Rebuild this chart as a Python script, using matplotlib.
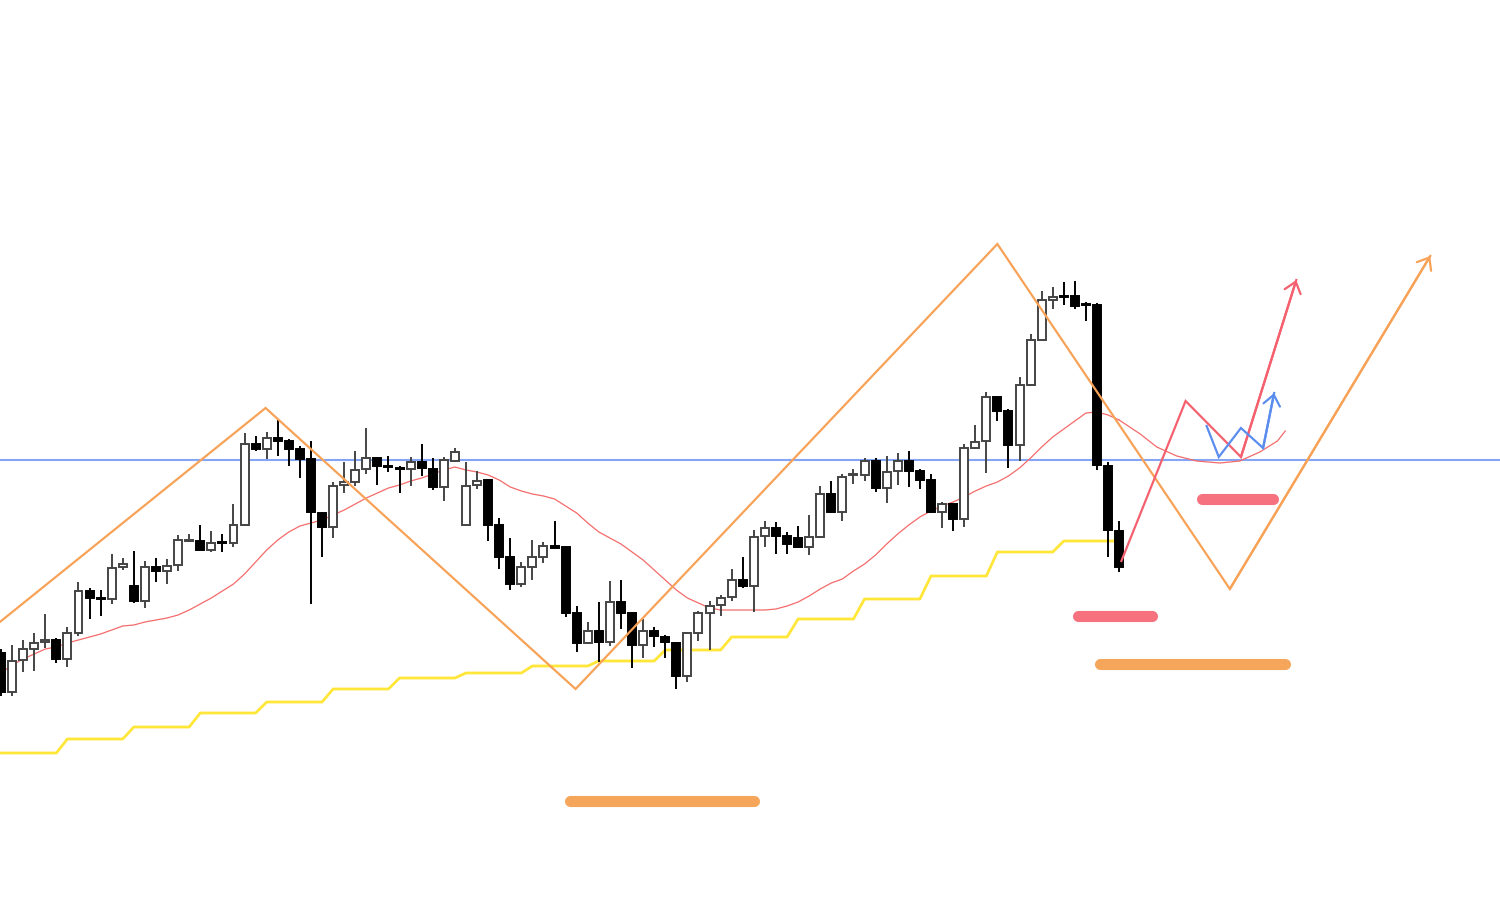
import numpy as np
import matplotlib
matplotlib.use("Agg")
import matplotlib.pyplot as plt

# =========================
# 1. Candle data
# =========================
opens = [258, 219, 251, 262, 269, 271, 252, 278, 320, 313,
         312, 344, 325, 310, 344, 340, 346, 370, 370, 361,
         369, 368, 386, 467, 462, 473, 470, 462, 452, 398,
         384, 426, 429, 442, 453, 445, 443, 442, 449, 442,
         424, 450, 386, 426, 431, 386, 354, 327, 344, 354,
         365, 364, 298, 268, 280, 269, 309, 298, 266, 280,
         274, 268, 235, 278, 298, 306, 314, 331, 325, 375,
         383, 375, 373, 364, 374, 417, 399, 436, 436, 450,
         423, 440, 450, 440, 431, 399, 407, 392, 463, 470,
         514, 500, 466, 526, 571, 611, 615, 615, 607, 606,
         445, 380]
highs = [262, 266, 271, 278, 297, 273, 284, 329, 323, 321,
         357, 353, 360, 350, 353, 352, 376, 377, 386, 380,
         377, 407, 478, 475, 479, 491, 472, 465, 470, 399,
         429, 449, 460, 483, 454, 455, 445, 454, 467, 453,
         454, 463, 449, 440, 432, 393, 373, 349, 371, 369,
         390, 364, 305, 289, 309, 330, 331, 299, 292, 284,
         276, 269, 279, 300, 310, 316, 342, 354, 381, 390,
         389, 379, 385, 396, 425, 430, 437, 442, 453, 453,
         455, 458, 460, 442, 437, 409, 408, 467, 486, 519,
         515, 502, 534, 577, 620, 624, 629, 630, 609, 608,
         449, 390]
lows = [215, 215, 239, 240, 263, 248, 244, 275, 292, 295,
        307, 341, 308, 303, 329, 327, 340, 369, 360, 359,
        359, 364, 385, 460, 452, 455, 445, 433, 307, 354,
        373, 418, 425, 437, 426, 439, 418, 425, 435, 421,
        410, 449, 385, 422, 370, 342, 321, 324, 331, 348,
        363, 294, 259, 267, 249, 265, 282, 243, 253, 264,
        253, 222, 229, 270, 261, 295, 310, 323, 299, 364,
        357, 357, 363, 356, 373, 398, 390, 427, 430, 419,
        408, 426, 424, 422, 398, 383, 380, 384, 462, 438,
        490, 443, 450, 525, 571, 602, 606, 602, 590, 441,
        354, 339]
closes = [219, 250, 262, 268, 271, 252, 278, 320, 313, 312,
          343, 347, 310, 344, 340, 345, 371, 371, 361, 368,
          368.5, 386, 467, 462, 473, 470, 462, 452, 399, 384,
          425, 429, 441, 453, 445, 444, 442, 449, 443, 424,
          451, 459, 425, 430, 386, 354, 327, 344, 354, 365,
          363.5, 298, 268, 280, 269, 309, 298, 266, 280, 275,
          269, 235, 278, 298, 305, 313, 331, 325, 374, 383,
          375, 367, 364, 374, 417, 399, 434, 436, 450, 423,
          439, 450, 440, 431, 399, 407, 392, 463, 469, 514,
          500, 466, 526, 571, 611, 614, 614.5, 605, 606.5, 446,
          381, 344]

# moving average (thin red line), one value per candle
ma = [238, 246, 252, 257, 262, 264, 268, 271, 274, 277,
      281, 285, 286, 289, 291, 293, 296, 301, 307, 313,
      320, 327, 337, 349, 361, 371, 379, 385, 388, 391,
      396, 401, 407, 413, 418, 423, 426, 430, 433, 437,
      441, 444, 441, 439, 436, 431, 424, 420, 417, 415,
      412, 405, 398, 388, 379, 373, 367, 359, 351, 341,
      331, 321, 313, 308, 303, 301, 301, 301, 301, 301,
      302, 305, 309, 315, 322, 328, 332, 340, 347, 356,
      367, 377, 386, 394, 400, 405, 409, 414, 420, 425,
      429, 435, 443, 453, 464, 474, 482, 490, 498, 499,
      496, 491]

# yellow step line: one level per block of 6 candles
base_levels = [158, 172, 184, 198, 209, 222, 233, 238, 245, 250,
               261, 274, 292, 312, 335, 359, 370]
block_len = 6

# horizontal level (blue)
level_price = 451

# =========================
# 2. Hand drawn annotations (bar index, price)
# =========================
orange_bars = [-1, 23.9, 51.9, 90.0, 111.0, 129.1]
orange_prices = [281, 503, 222, 667, 322, 655]

red_bars = [101.2, 107.0, 112.0, 117.0]
red_prices = [350, 510, 454, 631]

blue_bars = [108.9, 110.0, 112.0, 114.0, 115.0]
blue_prices = [485, 454, 483, 463, 518]

ma_proj_bars = [102.9, 104.4, 106.2, 108.0, 110.1, 111.9, 113.7, 115.3, 116.0]
ma_proj_prices = [477, 464, 455, 450, 448, 450, 459, 470, 480]

# thick rounded marks: (start bar, end bar, price)
red_zones = [(108.5, 114.9, 412), (97.3, 104.0, 295)]
orange_zones = [(99.3, 116.0, 247), (51.4, 68.0, 110)]

# colours
c_orange = "#f7a257"
c_red = "#f4606e"
c_blue = "#5b8def"
c_zone_red = "#f5727e"
c_zone_orange = "#f6a65a"
c_ma = "#f46a6a"
c_yellow = "#ffe638"
c_level = "#85a5f7"

# =========================
# 3. Plot
# =========================
fig = plt.figure(figsize=(15, 9.12), dpi=100)
ax = fig.add_axes([0, 0, 1, 1])
ax.set_xlim(-0.09, 135.4)
ax.set_ylim(0, 912)
ax.axis("off")

idx = np.arange(len(opens))
o = np.array(opens, dtype=float)
c = np.array(closes, dtype=float)
h = np.array(highs, dtype=float)
l = np.array(lows, dtype=float)
up = c >= o

# horizontal level
ax.axhline(level_price, color=c_level, linewidth=1.5, zorder=1)

# yellow step line
base = np.repeat(base_levels, block_len)[:len(idx)]
ax.plot(idx, base, color=c_yellow, linewidth=2, zorder=2)

# moving average
ax.plot(idx, ma, color=c_ma, linewidth=0.9, zorder=2)

# candles
width = 0.72
body_low = np.minimum(o, c)
body_h = np.maximum(np.abs(c - o), 0.9)
ax.vlines(idx[up], l[up], h[up], color="#444444", linewidth=1.4, zorder=3)
ax.vlines(idx[~up], l[~up], h[~up], color="black", linewidth=1.4, zorder=3)
ax.bar(idx[up], body_h[up], width, bottom=body_low[up], facecolor="white",
       edgecolor="#444444", linewidth=1.4, zorder=4)
ax.bar(idx[~up], body_h[~up], width, bottom=body_low[~up], facecolor="black",
       edgecolor="black", linewidth=1.4, zorder=4)

# projected MA curve
ax.plot([idx[-1]] + ma_proj_bars, [ma[-1]] + ma_proj_prices,
        color=c_ma, linewidth=0.9, zorder=5)

# zones
for x0, x1, p in red_zones:
    ax.plot([x0, x1], [p, p], color=c_zone_red, linewidth=8,
            solid_capstyle="round", zorder=5)
for x0, x1, p in orange_zones:
    ax.plot([x0, x1], [p, p], color=c_zone_orange, linewidth=8,
            solid_capstyle="round", zorder=5)


def zigzag(bars, prices, color, lw):
    ax.plot(bars, prices, color=color, linewidth=lw,
            solid_joinstyle="miter", zorder=6)
    ax.annotate("", xy=(bars[-1], prices[-1]), xytext=(bars[-2], prices[-2]),
                arrowprops=dict(arrowstyle="->,head_length=0.75,head_width=0.6",
                                color=color, linewidth=lw, shrinkA=0, shrinkB=0),
                zorder=6)


zigzag(orange_bars, orange_prices, c_orange, 1.6)
zigzag(red_bars, red_prices, c_red, 1.6)
zigzag(blue_bars, blue_prices, c_blue, 1.6)

fig.savefig("out.png", dpi=100, facecolor="white")
